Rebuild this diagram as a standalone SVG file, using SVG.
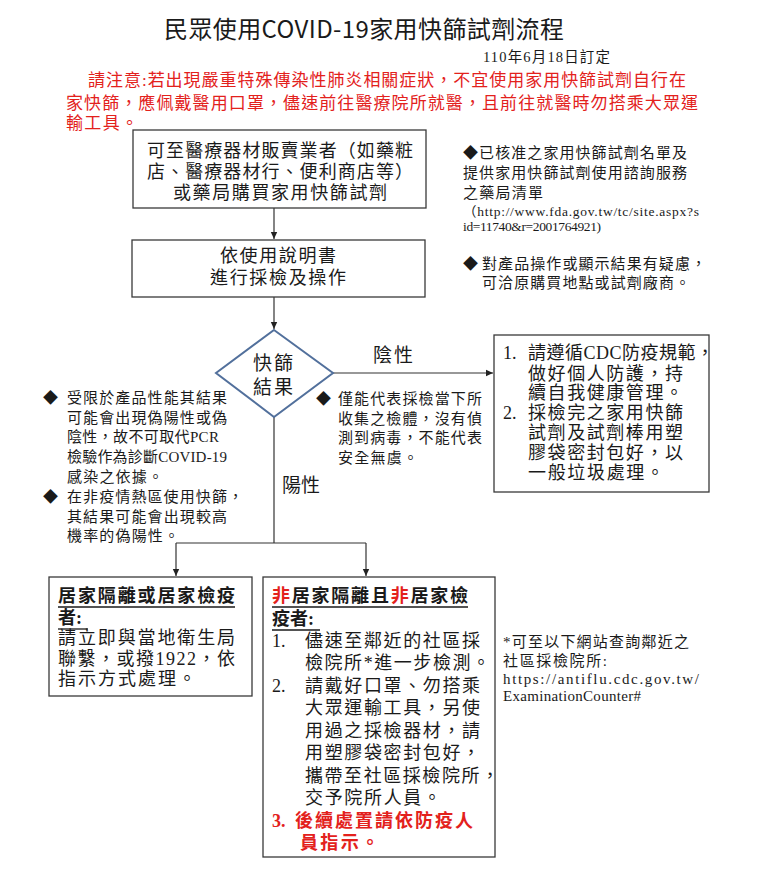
<svg xmlns="http://www.w3.org/2000/svg" width="767" height="879" viewBox="0 0 767 879">
<style>
text{font-family:"Liberation Serif","Noto Sans CJK TC",serif;fill:#1a1a1a}
.t{font-family:"Noto Sans CJK TC","Noto Sans",sans-serif;font-size:24px}
.red{fill:#e3211c}
.b18{font-size:18px}
.b19{font-size:19px}
.n15{font-size:15px}
.u13{font-size:13.5px}
.u15{font-size:15px}
.bold{font-weight:bold}
.box{fill:#fff;stroke:#3a3a3a;stroke-width:1.3}
.dia{fill:#fff;stroke:#52709c;stroke-width:2}
.con{stroke:#333;stroke-width:1.2;fill:none}
.ul{stroke:#1a1a1a;stroke-width:1.3}
</style>
<defs>
<marker id="ah" markerWidth="8" markerHeight="8" refX="7" refY="4" orient="auto" markerUnits="userSpaceOnUse">
<path d="M0,0.8 L7,4 L0,7.2 Z" fill="#222"/>
</marker>
</defs>
<rect width="767" height="879" fill="#fff"/>

<g id="title">
<text class="t" x="164" y="38" textLength="400" lengthAdjust="spacing">民眾使用COVID-19家用快篩試劑流程</text>
<text x="483" y="62" font-size="14.5" textLength="127" lengthAdjust="spacing">110年6月18日訂定</text>
</g>

<g id="notice" font-size="17">
<text class="red" x="88" y="86" font-size="17" textLength="598" lengthAdjust="spacing">請注意:若出現嚴重特殊傳染性肺炎相關症狀，不宜使用家用快篩試劑自行在</text>
<text class="red" x="66" y="109" font-size="17" textLength="632" lengthAdjust="spacing">家快篩，應佩戴醫用口罩，儘速前往醫療院所就醫，且前往就醫時勿搭乘大眾運</text>
<text class="red" x="66" y="129" font-size="17" textLength="72" lengthAdjust="spacing">輸工具。</text>
</g>

<g id="connectors">
<line class="con" x1="274" y1="208" x2="274" y2="239" marker-end="url(#ah)"/>
<line class="con" x1="274" y1="297" x2="274" y2="329" marker-end="url(#ah)"/>
<line class="con" x1="333" y1="373" x2="493" y2="373" marker-end="url(#ah)"/>
<polyline class="con" points="274,417 274,543"/>
<polyline class="con" points="176,543 366,543"/>
<line class="con" x1="176" y1="543" x2="176" y2="576" marker-end="url(#ah)"/>
<line class="con" x1="366" y1="543" x2="366" y2="576" marker-end="url(#ah)"/>
<text class="b19" x="373" y="362" textLength="40" lengthAdjust="spacing">陰性</text>
<text class="b19" x="282" y="492" textLength="38" lengthAdjust="spacing">陽性</text>
</g>

<g id="buy">
<rect class="box" x="133" y="130" width="293" height="78"/>
<text class="b18" x="147" y="157" textLength="266" lengthAdjust="spacing">可至醫療器材販賣業者（如藥粧</text>
<text class="b18" x="147" y="178" textLength="266" lengthAdjust="spacing">店、醫療器材行、便利商店等）</text>
<text class="b18" x="173" y="199" textLength="214" lengthAdjust="spacing">或藥局購買家用快篩試劑</text>
</g>

<g id="operate">
<rect class="box" x="132" y="240" width="293" height="57"/>
<text class="b18" x="220" y="262" textLength="116" lengthAdjust="spacing">依使用說明書</text>
<text class="b18" x="210" y="284" textLength="136" lengthAdjust="spacing">進行採檢及操作</text>
</g>

<g id="result">
<polygon class="dia" points="274,330 333,373 274,417 216,373"/>
<text class="b19" x="253" y="370" textLength="40" lengthAdjust="spacing">快篩</text>
<text class="b19" x="253" y="394" textLength="40" lengthAdjust="spacing">結果</text>
</g>

<g id="note-top">
<text class="n15" x="463" y="158" textLength="224" lengthAdjust="spacing">◆已核准之家用快篩試劑名單及</text>
<text class="n15" x="463" y="178" textLength="224" lengthAdjust="spacing">提供家用快篩試劑使用諮詢服務</text>
<text class="n15" x="463" y="198" textLength="80" lengthAdjust="spacing">之藥局清單</text>
<text class="u13" x="463" y="216" textLength="236" lengthAdjust="spacing">（http://www.fda.gov.tw/tc/site.aspx?s</text>
<text class="u13" x="463" y="231" textLength="138" lengthAdjust="spacing">id=11740&amp;r=2001764921)</text>
<text class="n15" x="463" y="269">◆</text>
<text class="n15" x="482" y="269" textLength="224" lengthAdjust="spacing">對產品操作或顯示結果有疑慮，</text>
<text class="n15" x="482" y="288" textLength="208" lengthAdjust="spacing">可洽原購買地點或試劑廠商。</text>
</g>

<g id="note-left">
<text class="n15" x="43" y="403">◆</text>
<text class="n15" x="67" y="403" textLength="160" lengthAdjust="spacing">受限於產品性能其結果</text>
<text class="n15" x="67" y="423" textLength="160" lengthAdjust="spacing">可能會出現偽陽性或偽</text>
<text class="n15" x="67" y="442" textLength="152" lengthAdjust="spacing">陰性，故不可取代PCR</text>
<text class="n15" x="67" y="462" textLength="160" lengthAdjust="spacing">檢驗作為診斷COVID-19</text>
<text class="n15" x="67" y="482" textLength="96" lengthAdjust="spacing">感染之依據。</text>
<text class="n15" x="43" y="502">◆</text>
<text class="n15" x="67" y="502" textLength="176" lengthAdjust="spacing">在非疫情熱區使用快篩，</text>
<text class="n15" x="67" y="522" textLength="160" lengthAdjust="spacing">其結果可能會出現較高</text>
<text class="n15" x="67" y="541" textLength="112" lengthAdjust="spacing">機率的偽陽性。</text>
</g>

<g id="note-mid">
<text class="n15" x="316" y="404">◆</text>
<text class="n15" x="338" y="404" textLength="144" lengthAdjust="spacing">僅能代表採檢當下所</text>
<text class="n15" x="338" y="424" textLength="144" lengthAdjust="spacing">收集之檢體，沒有偵</text>
<text class="n15" x="338" y="443" textLength="144" lengthAdjust="spacing">測到病毒，不能代表</text>
<text class="n15" x="338" y="463" textLength="80" lengthAdjust="spacing">安全無虞。</text>
</g>

<g id="negative">
<rect class="box" x="494" y="335" width="215" height="157"/>
<text class="b18" x="503" y="359">1.</text>
<text class="b18" x="528" y="359" textLength="186" lengthAdjust="spacing">請遵循CDC防疫規範，</text>
<text class="b18" x="528" y="380" textLength="155" lengthAdjust="spacing">做好個人防護，持</text>
<text class="b18" x="528" y="399" textLength="155" lengthAdjust="spacing">續自我健康管理。</text>
<text class="b18" x="503" y="419">2.</text>
<text class="b18" x="528" y="419" textLength="155" lengthAdjust="spacing">採檢完之家用快篩</text>
<text class="b18" x="528" y="439" textLength="155" lengthAdjust="spacing">試劑及試劑棒用塑</text>
<text class="b18" x="528" y="459" textLength="155" lengthAdjust="spacing">膠袋密封包好，以</text>
<text class="b18" x="528" y="479" textLength="136" lengthAdjust="spacing">一般垃圾處理。</text>
</g>

<g id="quarantined">
<rect class="box" x="49" y="577" width="203" height="119"/>
<text class="b18 bold" x="58" y="602" textLength="177" lengthAdjust="spacing">居家隔離或居家檢疫</text>
<line class="ul" x1="58" y1="607" x2="235" y2="607"/>
<text class="b18 bold" x="58" y="624">者:</text>
<line class="ul" x1="58" y1="629" x2="88" y2="629"/>
<text class="b18" x="58" y="644" textLength="177" lengthAdjust="spacing">請立即與當地衛生局</text>
<text class="b18" x="58" y="665" textLength="177" lengthAdjust="spacing">聯繫，或撥1922，依</text>
<text class="b18" x="58" y="685" textLength="138" lengthAdjust="spacing">指示方式處理。</text>
</g>

<g id="not-quarantined">
<rect class="box" x="263" y="577" width="232" height="280"/>
<text class="b18 bold" x="272" y="602" textLength="196" lengthAdjust="spacing"><tspan class="red">非</tspan>居家隔離且<tspan class="red">非</tspan>居家檢</text>
<line class="ul" x1="272" y1="607" x2="468" y2="607"/>
<text class="b18 bold" x="272" y="625">疫者:</text>
<line class="ul" x1="272" y1="630" x2="320" y2="630"/>
<text class="b18" x="272" y="647">1.</text>
<text class="b18" x="305" y="647" textLength="175" lengthAdjust="spacing">儘速至鄰近的社區採</text>
<text class="b18" x="305" y="669" textLength="185" lengthAdjust="spacing">檢院所*進一步檢測。</text>
<text class="b18" x="272" y="692">2.</text>
<text class="b18" x="305" y="692" textLength="175" lengthAdjust="spacing">請戴好口罩、勿搭乘</text>
<text class="b18" x="305" y="714" textLength="175" lengthAdjust="spacing">大眾運輸工具，另使</text>
<text class="b18" x="305" y="737" textLength="175" lengthAdjust="spacing">用過之採檢器材，請</text>
<text class="b18" x="305" y="759" textLength="175" lengthAdjust="spacing">用塑膠袋密封包好，</text>
<text class="b18" x="305" y="782" textLength="194" lengthAdjust="spacing">攜帶至社區採檢院所，</text>
<text class="b18" x="305" y="804" textLength="136" lengthAdjust="spacing">交予院所人員。</text>
<text class="b18 bold red" x="272" y="827">3.</text>
<text class="b18 bold red" x="295" y="827" textLength="178" lengthAdjust="spacing">後續處置請依防疫人</text>
<text class="b18 bold red" x="300" y="849" textLength="79" lengthAdjust="spacing">員指示。</text>
</g>

<g id="note-bottom">
<text class="u15" x="503" y="647" textLength="186" lengthAdjust="spacing">*可至以下網站查詢鄰近之</text>
<text class="u15" x="503" y="666" textLength="104" lengthAdjust="spacing">社區採檢院所:</text>
<text class="u15" x="503" y="684" textLength="196" lengthAdjust="spacing">https://antiflu.cdc.gov.tw/</text>
<text class="u15" x="503" y="701" textLength="138" lengthAdjust="spacing">ExaminationCounter#</text>
</g>
</svg>
